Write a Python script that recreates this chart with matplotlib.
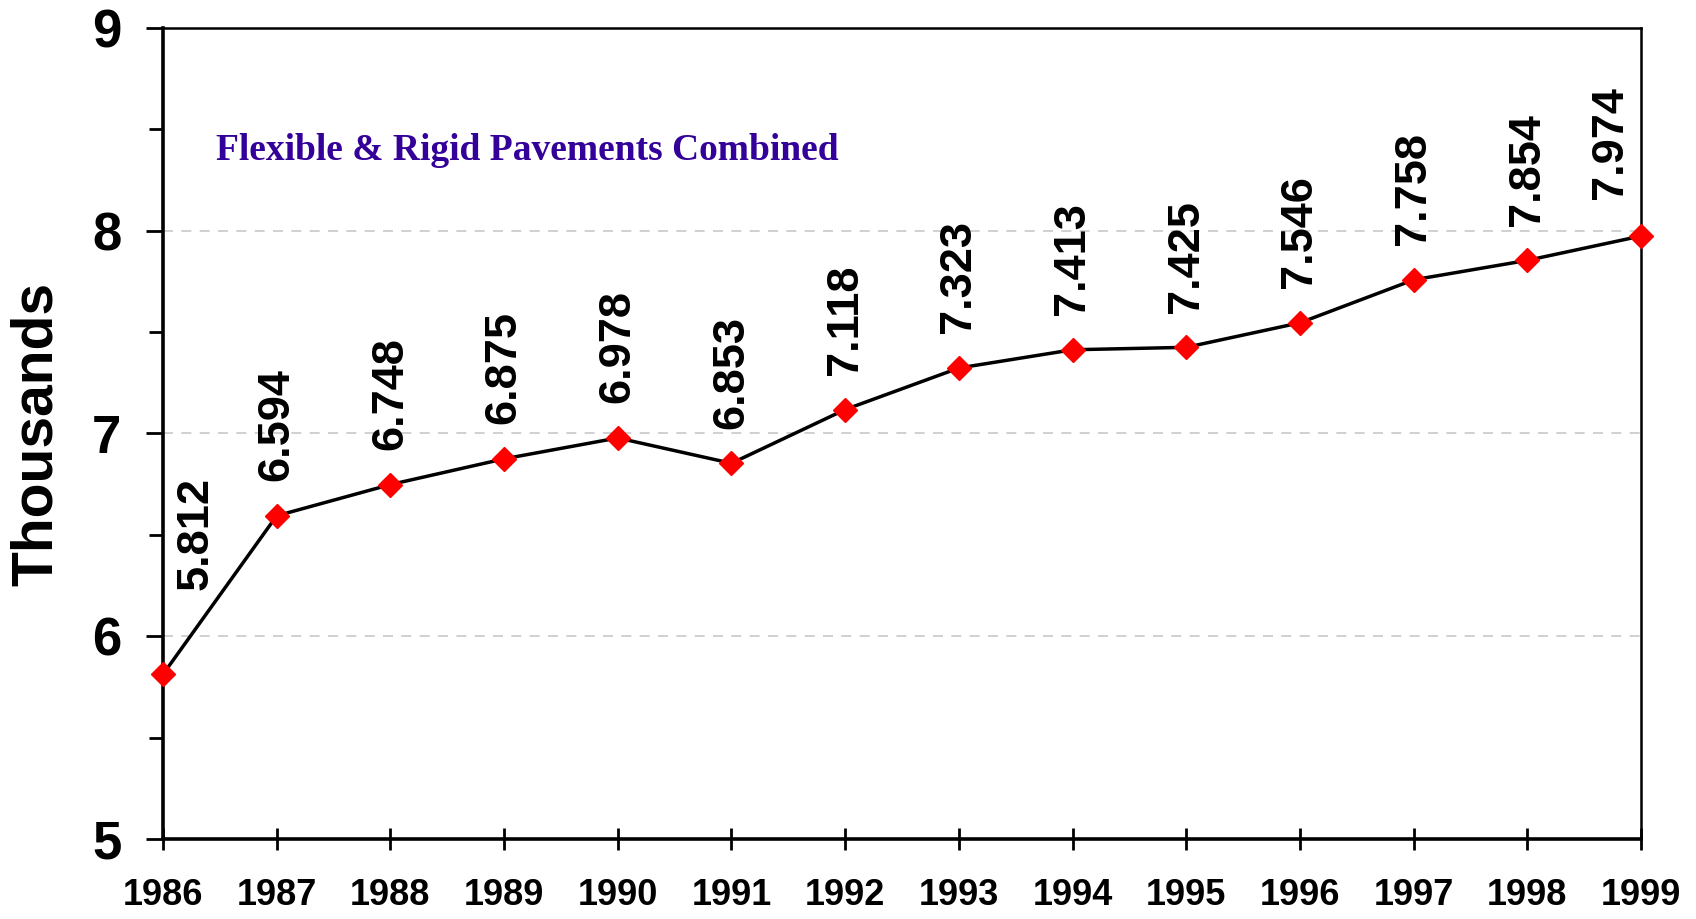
import matplotlib
matplotlib.use("Agg")
import matplotlib.pyplot as plt
from matplotlib.ticker import MultipleLocator

years = [1986, 1987, 1988, 1989, 1990, 1991, 1992, 1993, 1994, 1995, 1996, 1997, 1998, 1999]
values = [5.812, 6.594, 6.748, 6.875, 6.978, 6.853, 7.118, 7.323, 7.413, 7.425, 7.546, 7.758, 7.854, 7.974]
value_labels = ["5.812", "6.594", "6.748", "6.875", "6.978", "6.853", "7.118", "7.323",
                "7.413", "7.425", "7.546", "7.758", "7.854", "7.974"]
y_ticks = [5, 6, 7, 8, 9]
title_text = "Flexible & Rigid Pavements Combined"
y_label = "Thousands"

plt.rcParams['font.family'] = ['Liberation Sans', 'DejaVu Sans']

fig = plt.figure(figsize=(16.96, 9.19), dpi=100)
ax = fig.add_axes([0.0961, 0.0871, 0.8715, 0.8824])

ax.plot(years, values, color='black', lw=2.5, zorder=3,
        marker='D', markersize=12, markerfacecolor='red', markeredgecolor='red',
        clip_on=False)

ax.set_xlim(years[0], years[-1])
ax.set_ylim(y_ticks[0], y_ticks[-1])

ax.set_xticks(years)
ax.set_xticklabels([str(y) for y in years], fontsize=26, fontweight='bold')
ax.set_yticks(y_ticks)
ax.set_yticklabels([str(v) for v in y_ticks], fontsize=38, fontweight='bold')
ax.yaxis.set_minor_locator(MultipleLocator(0.5))

ax.tick_params(axis='x', direction='inout', length=16, width=2, pad=20)
ax.tick_params(axis='y', which='major', direction='out', length=12, width=2, pad=18)
ax.tick_params(axis='y', which='minor', direction='out', length=10, width=2)

for s in ['left', 'bottom']:
    ax.spines[s].set_linewidth(2.6)
for s in ['top', 'right']:
    ax.spines[s].set_linewidth(1.8)

for g in y_ticks[1:-1]:
    ax.axhline(g, color='#c8c8c8', lw=1.2, ls=(0, (6, 5)), zorder=1)

ax.set_ylabel(y_label, fontsize=41, fontweight='bold')
ax.yaxis.set_label_coords(-0.067, 0.5)

ax.text(0.0359, 0.837, title_text, transform=ax.transAxes, fontsize=27,
        fontweight='bold', family='Liberation Serif', color='#330099',
        ha='left', va='baseline')

for i, (x, y, lab) in enumerate(zip(years, values, value_labels)):
    dx, dy = 0, 25
    if i == 0:
        dx, dy = 24, 61
    elif i == len(years) - 1:
        dx, dy = -22, 27
    ax.annotate(lab, (x, y), xytext=(dx, dy), textcoords='offset points',
                rotation=90, ha='center', va='bottom', fontsize=32.5,
                fontweight='bold', annotation_clip=False)

fig.savefig('out.png', dpi=100)
